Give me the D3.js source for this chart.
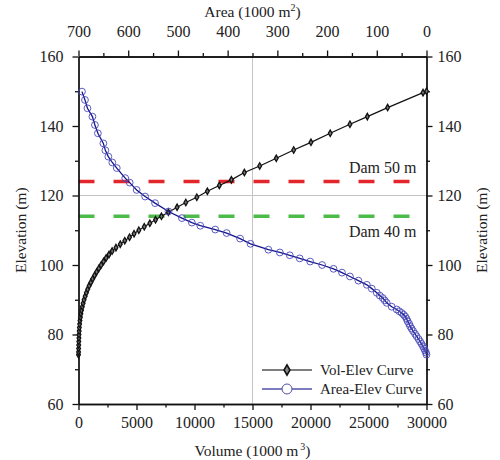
<!DOCTYPE html>
<html>
<head>
<meta charset="utf-8">
<script src="https://cdn.jsdelivr.net/npm/d3@7/dist/d3.min.js"></script>
<style>
  body { margin: 0; background: #fff; }
</style>
</head>
<body>
<div id="chart"></div>
<script>
// Vol-Elev curve: elevation (m) and volume (1000 m3)
const volElevations = [74.2, 75, 76, 77, 78, 79, 80, 81, 82, 83, 84, 85, 86, 87, 88, 89, 90, 91, 92, 93, 94, 95, 96, 97, 98, 99, 100,
    101, 102, 103, 104, 105, 106, 107, 108, 109, 110, 111, 112, 113, 114, 115.2, 116.6, 118, 119.5,
    121.2, 122.9, 124.5, 126.6, 128.5, 130.7, 133.1, 135.3, 137.9, 140.5, 142.7, 145.3, 149.6, 150];
const volumes = [0, 5, 10, 18, 25, 35, 45, 60, 75, 100, 130, 165, 210, 265, 330, 400, 480, 575, 680, 795, 920, 1065, 1220, 1385, 1560, 1750, 1950,
    2160, 2380, 2630, 2900, 3230, 3600, 3990, 4400, 4790, 5200, 5670, 6150, 6640, 7150, 7750, 8500, 9250, 10200,
    11110, 12140, 13180, 14300, 15620, 17050, 18550, 20040, 21700, 23400, 24900, 26650, 29700, 30000];

// Area-Elev curve: elevation (m) and area (1000 m2)
const areaElevations = [149.9, 147.5, 145.1, 142.7, 140.3, 137.9, 135, 133, 131.2, 129.5, 127.9, 125, 123.7, 121.6, 119.7, 117.8,
    115.4, 113.5, 112.2, 111.3, 110.2, 109.2, 107.6, 106.1, 104.4, 103.6, 102.8, 101.9, 101, 100, 98.9, 97.8, 96.7, 95.5,
    94.3, 93.2, 92, 91.2, 90.5, 89.8, 89.1, 88, 87.2, 86.7, 86.2, 85.7, 85.2, 84.5, 83.8, 83.1, 82.4, 81.7, 81, 80.2,
    79.5, 78.7, 78, 77.3, 76.6, 76, 75.4, 74.8, 74.2];
const areas = [693, 687, 682, 672, 667, 661, 650, 646, 640, 632, 623, 606, 597, 583, 566, 546,
    519, 492, 472, 455, 425, 402, 375, 354, 318, 295, 275, 255, 234, 210, 187, 170, 154, 137,
    120, 110, 100, 94, 88, 84, 80, 70, 60, 55, 50, 46, 43, 40, 38, 35, 33, 30, 27, 23,
    20, 16, 13, 10, 7, 5, 3, 1, 0];

const damLevels = [124, 114];
const damLabels = ["Dam 50 m", "Dam 40 m"];
const damColours = ["#e3262b", "#4dbb4a"];

const volumeTicks = [0, 5000, 10000, 15000, 20000, 25000, 30000];
const volumeMinor = [2500, 7500, 12500, 17500, 22500, 27500];
const areaTicks = [700, 600, 500, 400, 300, 200, 100, 0];
const areaMinor = [650, 550, 450, 350, 250, 150, 50];
const elevTicks = [60, 80, 100, 120, 140, 160];
const elevMinor = [70, 90, 110, 130, 150];

const margin = { top: 56.5, right: 73.5, bottom: 56, left: 78.5 },
    width = 500 - margin.left - margin.right,
    height = 460 - margin.top - margin.bottom;

const svgContainer = d3.select("#chart").append("svg")
    .attr("width", 500)
    .attr("height", 460);

const svg = svgContainer.append("g")
    .attr("transform", `translate(${margin.left},${margin.top})`);

const x = d3.scaleLinear().domain([0, 30000]).range([0, width]);
const xArea = d3.scaleLinear().domain([700, 0]).range([0, width]);
const y = d3.scaleLinear().domain([60, 160]).range([height, 0]);

// centre grid lines
svg.append("line")
    .attr("x1", x(15000)).attr("x2", x(15000))
    .attr("y1", 0).attr("y2", height)
    .attr("stroke", "#c4c4c4").attr("stroke-width", 1);
svg.append("line")
    .attr("x1", 0).attr("x2", width)
    .attr("y1", y(120)).attr("y2", y(120))
    .attr("stroke", "#c4c4c4").attr("stroke-width", 1);

// dam lines
svg.append("clipPath").attr("id", "plot-clip")
    .append("rect").attr("width", width).attr("height", height);

damLevels.forEach((level, i) => {
    svg.append("line")
        .attr("clip-path", "url(#plot-clip)")
        .attr("x1", 0).attr("x2", width)
        .attr("y1", y(level)).attr("y2", y(level))
        .attr("stroke", damColours[i])
        .attr("stroke-width", 3.5)
        .attr("stroke-dasharray", "16,19");
});

svg.append("text")
    .attr("x", width - 10).attr("y", y(damLevels[0]) - 9)
    .attr("text-anchor", "end")
    .style("font-size", "16px")
    .text(damLabels[0]);
svg.append("text")
    .attr("x", width - 10).attr("y", y(damLevels[1]) + 21)
    .attr("text-anchor", "end")
    .style("font-size", "16px")
    .text(damLabels[1]);

// axes
const styleAxis = (g) => {
    g.selectAll("path").style("stroke", "#111").style("stroke-width", 1.3);
    g.selectAll("line").style("stroke", "#111").style("stroke-width", 1.3);
    g.selectAll("text").style("font-size", "16px");
};

const minorAxis = (axis, values) => axis.tickValues(values).tickSize(3.5).tickSizeOuter(0).tickFormat("");

const bottomAxis = svg.append("g").attr("transform", `translate(0,${height})`)
    .call(d3.axisBottom(x).tickValues(volumeTicks).tickSize(6).tickSizeOuter(0).tickPadding(7).tickFormat(d3.format("d")));
svg.append("g").attr("transform", `translate(0,${height})`).call(minorAxis(d3.axisBottom(x), volumeMinor)).call(styleAxis);
styleAxis(bottomAxis);

const topAxis = svg.append("g")
    .call(d3.axisTop(xArea).tickValues(areaTicks).tickSize(6).tickSizeOuter(0).tickPadding(14).tickFormat(d3.format("d")));
svg.append("g").call(minorAxis(d3.axisTop(xArea), areaMinor)).call(styleAxis);
styleAxis(topAxis);

const leftAxis = svg.append("g")
    .call(d3.axisLeft(y).tickValues(elevTicks).tickSize(6).tickSizeOuter(0).tickPadding(9));
svg.append("g").call(minorAxis(d3.axisLeft(y), elevMinor)).call(styleAxis);
styleAxis(leftAxis);

const rightAxis = svg.append("g").attr("transform", `translate(${width},0)`)
    .call(d3.axisRight(y).tickValues(elevTicks).tickSize(6).tickSizeOuter(0).tickPadding(5));
svg.append("g").attr("transform", `translate(${width},0)`).call(minorAxis(d3.axisRight(y), elevMinor)).call(styleAxis);
styleAxis(rightAxis);

// axis titles
const topTitle = svgContainer.append("text")
    .attr("x", margin.left + width / 2).attr("y", 17)
    .attr("text-anchor", "middle")
    .style("font-size", "15.5px");
topTitle.append("tspan").text("Area (1000 m");
topTitle.append("tspan").attr("dy", -6).style("font-size", "10px").text("2");
topTitle.append("tspan").attr("dy", 6).text(")");

const bottomTitle = svgContainer.append("text")
    .attr("x", margin.left + width / 2).attr("y", 456)
    .attr("text-anchor", "middle")
    .style("font-size", "15.5px");
bottomTitle.append("tspan").text("Volume (1000 m");
bottomTitle.append("tspan").attr("dx", 2).attr("dy", -6).style("font-size", "10px").text("3");
bottomTitle.append("tspan").attr("dy", 6).text(")");

svgContainer.append("text")
    .attr("transform", `translate(26,${margin.top + height / 2}) rotate(-90)`)
    .attr("text-anchor", "middle")
    .style("font-size", "15.5px")
    .text("Elevation (m)");

svgContainer.append("text")
    .attr("transform", `translate(487,${margin.top + height / 2}) rotate(-90)`)
    .attr("text-anchor", "middle")
    .style("font-size", "15.5px")
    .text("Elevation (m)");

// curves
const volData = volElevations.map((e, i) => ({ e, v: volumes[i] }));
const areaData = areaElevations.map((e, i) => ({ e, a: areas[i] }));

svg.append("path")
    .datum(volData)
    .attr("fill", "none")
    .attr("stroke", "#111")
    .attr("stroke-width", 1.2)
    .attr("d", d3.line().x(d => x(d.v)).y(d => y(d.e)));

const diamond = d3.symbol().type(d3.symbolDiamond).size(12);

svg.append("g").selectAll("path")
    .data(volData)
    .join("path")
    .attr("transform", d => `translate(${x(d.v)},${y(d.e)})`)
    .attr("d", diamond)
    .attr("fill", "#777")
    .attr("stroke", "#111")
    .attr("stroke-width", 1.3);

svg.append("path")
    .datum(areaData)
    .attr("fill", "none")
    .attr("stroke", "#14148c")
    .attr("stroke-width", 1.3)
    .attr("d", d3.line().x(d => xArea(d.a)).y(d => y(d.e)));

svg.append("g").selectAll("circle")
    .data(areaData)
    .join("circle")
    .attr("cx", d => xArea(d.a))
    .attr("cy", d => y(d.e))
    .attr("r", 3.4)
    .attr("fill", "none")
    .attr("stroke", "#4848b8")
    .attr("stroke-width", 0.9);

// legend
const legend = svgContainer.append("g").attr("transform", "translate(262,370)");
legend.append("line").attr("x1", 0).attr("x2", 50).attr("y1", 0).attr("y2", 0)
    .attr("stroke", "#555").attr("stroke-width", 1.3);
legend.append("path").attr("transform", "translate(25,0)")
    .attr("d", d3.symbol().type(d3.symbolDiamond).size(30))
    .attr("fill", "#888").attr("stroke", "#111").attr("stroke-width", 1.6);
legend.append("text").attr("x", 58).attr("y", 5).style("font-size", "15px").text("Vol-Elev Curve");

legend.append("line").attr("x1", 0).attr("x2", 50).attr("y1", 19).attr("y2", 19)
    .attr("stroke", "#5050a8").attr("stroke-width", 1.3);
legend.append("circle").attr("cx", 25).attr("cy", 19).attr("r", 5)
    .attr("fill", "#fff").attr("stroke", "#5050a8").attr("stroke-width", 1);
legend.append("text").attr("x", 58).attr("y", 24).style("font-size", "15px").text("Area-Elev Curve");

// serif font on every label
svgContainer.selectAll("text")
    .style("font-family", '"Liberation Serif"')
    .style("fill", "#222");
</script>
</body>
</html>
